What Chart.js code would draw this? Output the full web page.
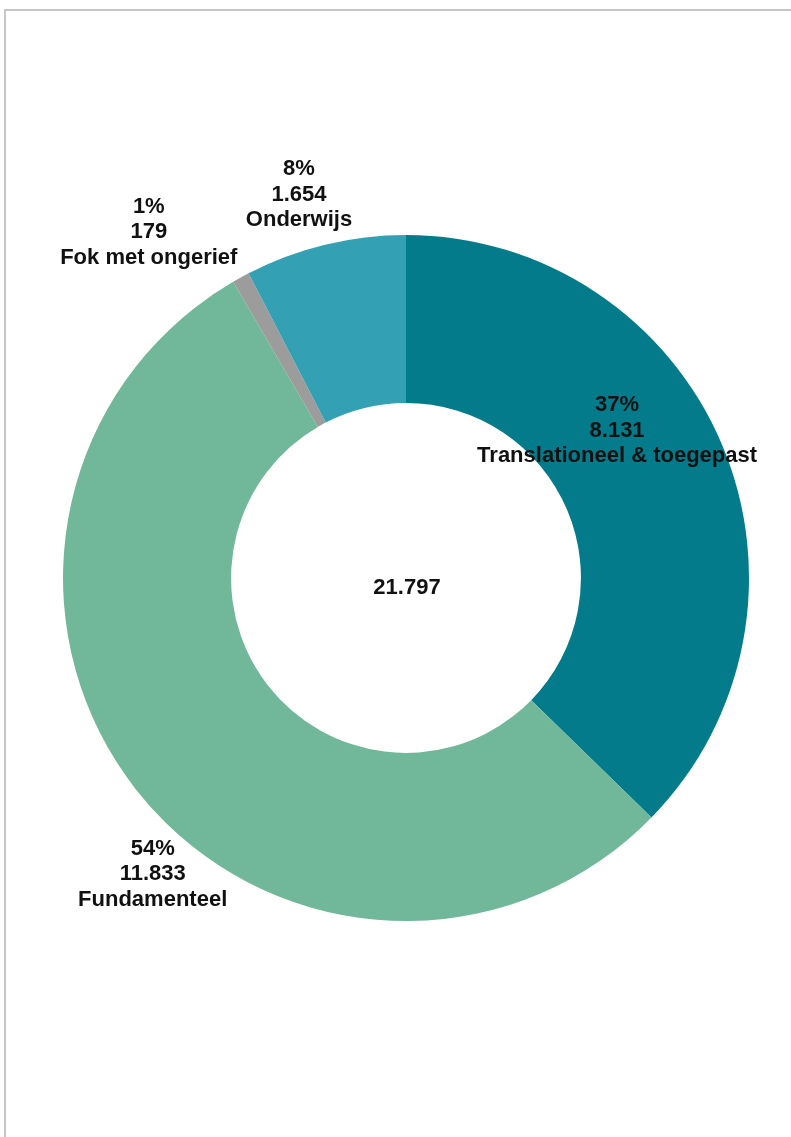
<!DOCTYPE html>
<html>
<head>
<meta charset="utf-8">
<script src="https://cdn.jsdelivr.net/npm/chart.js@4"></script>
<style>
  html, body { margin: 0; padding: 0; width: 791px; height: 1137px; overflow: hidden; background: #fff; }
  #frame { position: absolute; left: 4px; top: 9px; width: 820px; height: 1160px;
           border-left: 2px solid #c6c6c6; border-top: 2px solid #c6c6c6; }
  #wrap { position: absolute; left: 0; top: 0; width: 791px; height: 1137px; }
</style>
</head>
<body>
<div id="frame"></div>
<div id="wrap"><canvas id="c" width="791" height="1137"></canvas></div>
<script>
// ---- data ----
const categories = ["Translationeel & toegepast", "Fundamenteel", "Fok met ongerief", "Onderwijs"];
const values = [8131, 11833, 179, 1654];
const percentLabels = ["37%", "54%", "1%", "8%"];
const valueLabels = ["8.131", "11.833", "179", "1.654"];
const totalLabel = "21.797";

// ---- style ----
const colors = ["#037B8B", "#71B89A", "#9C9C9C", "#33A0B3"];
// label offsets (px) from the mid-angle point on the outer edge of each arc
const labelOffsets = [[-105, -14], [17, 85], [-92, -45], [-26, -50]];
const FONT = "bold 22px 'Liberation Sans', Arial, sans-serif";
const LINE_H = 25.5;

const labelPlugin = {
  id: 'sliceLabels',
  afterDatasetsDraw(chart) {
    const ctx = chart.ctx;
    const meta = chart.getDatasetMeta(0);
    ctx.save();
    ctx.font = FONT;
    ctx.fillStyle = '#111';
    ctx.textAlign = 'center';
    ctx.textBaseline = 'middle';
    meta.data.forEach((arc, i) => {
      const p = arc.getProps(['x', 'y', 'startAngle', 'endAngle', 'outerRadius'], true);
      const mid = (p.startAngle + p.endAngle) / 2;
      const bx = p.x + Math.cos(mid) * p.outerRadius + labelOffsets[i][0];
      const by = p.y + Math.sin(mid) * p.outerRadius + labelOffsets[i][1];
      const lines = [percentLabels[i], valueLabels[i], categories[i]];
      lines.forEach((t, k) => ctx.fillText(t, bx, by + (k - 1) * LINE_H));
    });
    // center total
    const a = meta.data[0];
    ctx.fillText(totalLabel, a.x + 1, a.y + 10);
    ctx.restore();
  }
};

new Chart(document.getElementById('c'), {
  type: 'doughnut',
  data: {
    labels: categories,
    datasets: [{
      data: values,
      backgroundColor: colors,
      borderWidth: 0,
      hoverOffset: 0
    }]
  },
  options: {
    responsive: false,
    animation: false,
    radius: 343,
    cutout: '51%',
    layout: { padding: { left: 41, right: 20, top: 40, bottom: 21 } },
    plugins: {
      legend: { display: false },
      tooltip: { enabled: false },
      title: { display: false }
    },
    events: []
  },
  plugins: [labelPlugin]
});
</script>
</body>
</html>
